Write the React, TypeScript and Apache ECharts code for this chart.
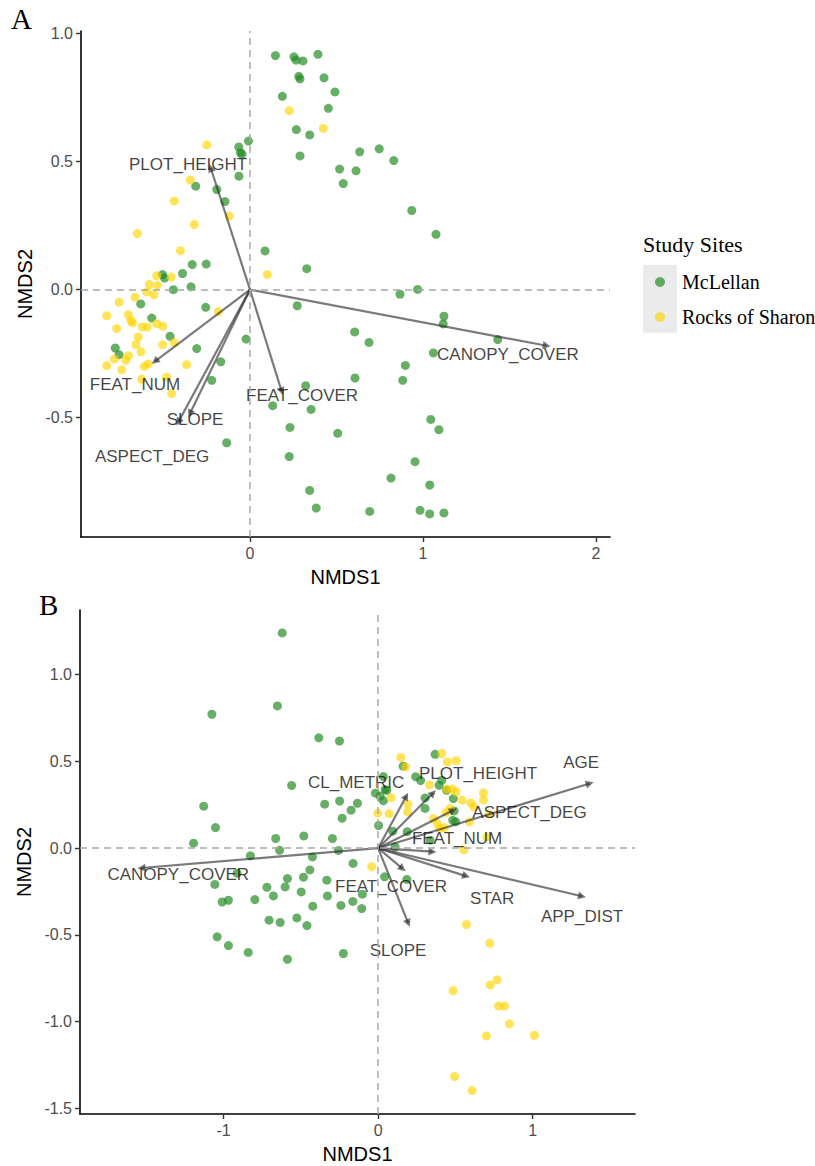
import React, { useEffect, useRef } from "react";
import * as echarts from "echarts";

// ---------- Panel A data ----------
const mclellanA: number[][] = [
  [0.147, 0.914], [0.254, 0.909], [0.266, 0.896], [0.306, 0.893], [0.393, 0.919], [0.282, 0.833],
  [0.289, 0.823], [0.428, 0.827], [0.491, 0.772], [0.187, 0.755], [0.453, 0.708], [0.268, 0.625],
  [0.345, 0.604], [0.289, 0.522], [0.634, 0.538], [0.747, 0.55], [0.831, 0.504], [0.518, 0.471],
  [0.613, 0.464], [0.539, 0.414], [0.935, 0.309], [1.075, 0.216], [0.087, 0.151], [0.328, 0.082],
  [-0.009, 0.58], [-0.065, 0.557], [-0.046, 0.529], [-0.055, 0.535], [-0.064, 0.443], [-0.314, 0.404],
  [-0.192, 0.391], [-0.145, 0.344], [-0.334, 0.098], [-0.253, 0.1], [-0.39, 0.063], [-0.506, 0.059],
  [-0.494, 0.045], [-0.443, 0.0], [-0.341, 0.011], [-0.632, -0.056], [-0.256, -0.069], [-0.568, -0.111],
  [-0.462, -0.182], [-0.308, -0.23], [-0.023, -0.193], [-0.169, -0.282], [-0.779, -0.228], [-0.757, -0.254],
  [-0.221, -0.354], [-0.135, -0.598], [0.227, -0.652], [0.345, -0.784], [0.383, -0.853], [0.692, -0.866],
  [0.131, -0.453], [0.231, -0.538], [0.353, -0.468], [0.507, -0.561], [0.322, -0.375], [0.273, -0.063],
  [0.605, -0.165], [0.688, -0.206], [0.607, -0.345], [0.867, -0.018], [0.969, 0.001], [1.121, -0.104],
  [1.117, -0.134], [1.432, -0.195], [1.06, -0.247], [0.898, -0.296], [0.883, -0.354], [1.045, -0.507],
  [1.092, -0.547], [0.954, -0.672], [0.815, -0.736], [1.039, -0.763], [0.983, -0.862], [1.039, -0.876],
  [1.121, -0.872],
];
const sharonA: number[][] = [
  [0.227, 0.699], [0.424, 0.63], [0.1, 0.059], [-0.25, 0.565], [-0.345, 0.428], [-0.438, 0.346],
  [-0.12, 0.287], [-0.322, 0.254], [-0.651, 0.219], [-0.402, 0.152], [-0.539, 0.054], [-0.455, 0.049],
  [-0.582, 0.02], [-0.535, 0.017], [-0.597, -0.009], [-0.555, -0.02], [-0.665, -0.03], [-0.757, -0.049],
  [-0.183, -0.086], [-0.828, -0.102], [-0.703, -0.098], [-0.688, -0.121], [-0.68, -0.13], [-0.771, -0.152],
  [-0.623, -0.146], [-0.594, -0.146], [-0.539, -0.133], [-0.505, -0.143], [-0.646, -0.185], [-0.659, -0.215],
  [-0.505, -0.215], [-0.438, -0.206], [-0.63, -0.243], [-0.703, -0.258], [-0.717, -0.276], [-0.784, -0.271],
  [-0.828, -0.297], [-0.742, -0.313], [-0.611, -0.3], [-0.588, -0.29], [-0.366, -0.293], [-0.626, -0.35],
  [-0.482, -0.342], [-0.453, -0.406],
];
const vectorNamesA = ["PLOT_HEIGHT", "CANOPY_COVER", "FEAT_NUM", "FEAT_COVER", "SLOPE", "ASPECT_DEG"];
const vectorEndsA: number[][] = [
  [-0.227, 0.475], [1.715, -0.219], [-0.549, -0.28], [0.183, -0.397], [-0.347, -0.484], [-0.414, -0.517],
];
const vectorLabelsA: number[][] = [
  [-0.358, 0.488], [1.491, -0.254], [-0.665, -0.371], [0.301, -0.414], [-0.318, -0.508], [-0.566, -0.652],
];
const xTicksA = [0, 1, 2];
const yTicksA = [-0.5, 0, 0.5, 1.0];

// ---------- Panel B data ----------
const mclellanB: number[][] = [
  [-0.621, 1.241], [-0.652, 0.82], [-1.076, 0.772], [-0.384, 0.636], [-0.25, 0.618], [-0.56, 0.362],
  [-1.129, 0.242], [-1.053, 0.119], [-1.195, 0.029], [-0.346, 0.254], [-0.249, 0.272], [-0.134, 0.259],
  [-0.175, 0.219], [-0.233, 0.173], [-0.663, 0.056], [-0.481, 0.071], [-0.296, 0.056], [-0.638, -0.012],
  [-0.257, -0.013], [-0.827, -0.044], [-0.425, -0.05], [-0.162, -0.088], [0.034, 0.413], [-0.018, 0.317],
  [0.013, 0.3], [0.034, 0.274], [0.056, 0.334], [0.003, 0.131], [-0.442, -0.125], [-0.913, -0.144],
  [-1.057, -0.209], [-0.587, -0.175], [-0.602, -0.223], [-0.72, -0.225], [-0.483, -0.167], [-0.332, -0.184],
  [-0.498, -0.252], [-0.678, -0.275], [-0.798, -0.296], [-1.01, -0.31], [-0.969, -0.3], [-0.423, -0.334],
  [-0.328, -0.275], [-0.241, -0.33], [-0.164, -0.307], [-0.102, -0.265], [-0.106, -0.348], [-0.706, -0.415],
  [-0.634, -0.428], [-0.526, -0.402], [-0.461, -0.446], [-1.042, -0.511], [-0.969, -0.561], [-0.841, -0.601],
  [-0.587, -0.64], [-0.225, -0.607], [0.369, 0.541], [0.162, 0.473], [0.243, 0.412], [0.275, 0.39],
  [0.045, 0.338], [0.395, 0.363], [0.412, 0.392], [0.443, 0.334], [0.304, 0.229], [0.487, 0.286],
  [0.492, 0.215], [0.483, 0.161], [0.502, 0.153], [0.304, 0.29], [0.095, 0.098], [0.188, 0.095],
  [0.11, 0.007], [0.337, 0.046], [0.042, -0.165], [0.186, -0.18],
];
const sharonB: number[][] = [
  [0.147, 0.523], [0.412, 0.546], [0.449, 0.497], [0.505, 0.504], [0.178, 0.469], [0.084, 0.291],
  [-0.002, 0.202], [0.071, 0.199], [-0.041, -0.107], [0.333, 0.365], [0.445, 0.34], [0.48, 0.341],
  [0.505, 0.324], [0.193, 0.254], [0.191, 0.209], [0.682, 0.319], [0.682, 0.278], [0.544, 0.277],
  [0.6, 0.261], [0.62, 0.238], [0.718, 0.196], [0.466, 0.229], [0.44, 0.206], [0.358, 0.171],
  [0.384, 0.142], [0.429, 0.119], [0.401, 0.114], [0.591, 0.152], [0.555, -0.01], [0.704, 0.065],
  [0.572, -0.44], [0.723, -0.548], [0.77, -0.758], [0.726, -0.788], [0.485, -0.821], [0.78, -0.91],
  [0.819, -0.91], [0.85, -1.012], [0.701, -1.082], [1.012, -1.078], [0.495, -1.316], [0.608, -1.397],
];
const vectorNamesB = [
  "AGE", "PLOT_HEIGHT", "CL_METRIC", "ASPECT_DEG", "FEAT_NUM", "STAR", "APP_DIST", "SLOPE", "FEAT_COVER", "CANOPY_COVER",
];
const vectorEndsB: number[][] = [
  [1.37, 0.373], [0.356, 0.318], [0.182, 0.3], [0.486, 0.219], [0.352, -0.02], [0.57, -0.161],
  [1.32, -0.277], [0.195, -0.432], [0.158, -0.118], [-1.532, -0.114],
];
const vectorLabelsB: number[][] = [
  [1.314, 0.496], [0.647, 0.432], [-0.142, 0.38], [0.98, 0.207], [0.511, 0.058], [0.738, -0.288],
  [1.32, -0.392], [0.129, -0.588], [0.084, -0.219], [-1.294, -0.15],
];
const xTicksB = [-1, 0, 1];
const yTicksB = [-1.5, -1.0, -0.5, 0, 0.5, 1.0];

const siteNames = ["McLellan", "Rocks of Sharon"];
const GREEN = "rgba(34,139,34,0.86)";
const YELLOW = "rgba(255,213,0,0.82)";
const ARROW = "rgba(40,40,40,0.62)";
const SANS = "'Liberation Sans', Arial, Helvetica, sans-serif";
const SERIF = "'Liberation Serif', 'Times New Roman', serif";

function axisCommon(ticks: number[], fmt: (v: number) => string) {
  return {
    splitLine: { show: false },
    axisLine: { show: true, onZero: false, lineStyle: { color: "#000", width: 1.6 } },
    axisTick: { show: true, length: 5, lineStyle: { color: "#333", width: 1.4 }, customValues: ticks },
    axisLabel: {
      show: true, customValues: ticks, color: "#4d4d4d", fontSize: 16, fontFamily: SANS, margin: 8,
      formatter: (v: number) => fmt(v),
      showMinLabel: true, showMaxLabel: true,
    },
    nameTextStyle: { color: "#000", fontSize: 20, fontFamily: SANS },
    nameLocation: "middle",
  };
}

const fmtInt = (v: number) => String(Math.round(v));
const fmt1 = (v: number) => (Math.abs(v) < 1e-9 ? "0.0" : v.toFixed(1));

function panelSeries(idx: number, green: number[][], yellow: number[][], names: string[], ends: number[][], labels: number[][]) {
  return [
    {
      type: "scatter", name: "ref" + idx, xAxisIndex: idx, yAxisIndex: idx, data: [], z: 1, silent: true,
      markLine: {
        silent: true, symbol: "none", animation: false,
        label: { show: false },
        lineStyle: { type: [7, 5], color: "#a8a8a8", width: 1.5 },
        data: [{ xAxis: 0 }, { yAxis: 0 }],
      },
    },
    {
      type: "scatter", name: siteNames[0], xAxisIndex: idx, yAxisIndex: idx, data: green,
      symbolSize: 9, itemStyle: { color: GREEN }, z: 2,
    },
    {
      type: "scatter", name: siteNames[1], xAxisIndex: idx, yAxisIndex: idx, data: yellow,
      symbolSize: 9, itemStyle: { color: YELLOW }, z: 2,
    },
    {
      type: "lines", name: "vectors" + idx, coordinateSystem: "cartesian2d", xAxisIndex: idx, yAxisIndex: idx,
      symbol: ["none", "triangle"], symbolSize: 8, z: 3, silent: true,
      lineStyle: { color: ARROW, width: 2.2, opacity: 1 },
      data: ends.map((e) => ({ coords: [[0, 0], e] })),
    },
    {
      type: "scatter", name: "vectorLabels" + idx, xAxisIndex: idx, yAxisIndex: idx, symbolSize: 1, z: 4, silent: true,
      itemStyle: { color: "rgba(0,0,0,0)" },
      label: {
        show: true, position: "inside", formatter: "{b}", color: "#111", fontSize: 17, fontFamily: SANS,
      },
      data: names.map((n, i) => ({ name: n, value: labels[i] })),
    },
  ];
}

export default function App() {
  const ref = useRef<HTMLDivElement>(null);
  useEffect(() => {
    document.body.style.margin = "0";
    if (!ref.current) return;
    const chart = echarts.init(ref.current, undefined, { renderer: "svg" });
    const titleStyle = (size: number) => ({ fontFamily: SERIF, fontSize: size, fontWeight: "normal", color: "#000" });
    const option: any = {
      animation: false,
      backgroundColor: "#fff",
      title: [
        { text: "A", left: 11, top: 4, padding: 0, textStyle: titleStyle(29) },
        { text: "B", left: 39, top: 590, padding: 0, textStyle: titleStyle(29) },
        { text: "Study Sites", left: 643, top: 233, padding: 0, textStyle: titleStyle(22) },
      ],
      graphic: [
        { type: "rect", shape: { x: 643, y: 265, width: 34, height: 68 }, style: { fill: "#ebebeb" }, z: 0 },
      ],
      legend: {
        data: siteNames, orient: "vertical", left: 655, top: 272, padding: 0, itemWidth: 34, itemHeight: 10, itemGap: 15,
        icon: "circle", z: 5,
        textStyle: { fontFamily: SERIF, fontSize: 20, color: "#000", lineHeight: 20 },
      },
      grid: [
        { left: 81, top: 31, width: 529, height: 506 },
        { left: 80, top: 610, width: 555, height: 504 },
      ],
      xAxis: [
        { ...axisCommon(xTicksA, fmtInt), gridIndex: 0, type: "value", min: -0.977, max: 2.081, name: "NMDS1", nameGap: 30 },
        { ...axisCommon(xTicksB, fmtInt), gridIndex: 1, type: "value", min: -1.93, max: 1.663, name: "NMDS1", nameGap: 30 },
      ],
      yAxis: [
        { ...axisCommon(yTicksA, fmt1), gridIndex: 0, type: "value", min: -0.966, max: 1.01, name: "NMDS2", nameGap: 44 },
        { ...axisCommon(yTicksB, fmt1), gridIndex: 1, type: "value", min: -1.532, max: 1.373, name: "NMDS2", nameGap: 44 },
      ],
      series: [
        ...panelSeries(0, mclellanA, sharonA, vectorNamesA, vectorEndsA, vectorLabelsA),
        ...panelSeries(1, mclellanB, sharonB, vectorNamesB, vectorEndsB, vectorLabelsB),
      ],
    };
    chart.setOption(option);
    return () => chart.dispose();
  }, []);
  return <div ref={ref} style={{ width: 815, height: 1166 }} />;
}
